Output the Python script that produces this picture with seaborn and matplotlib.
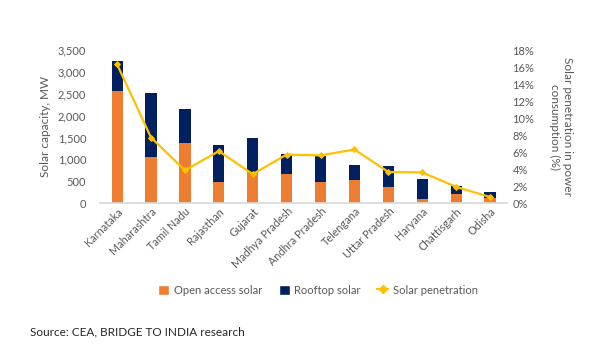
import matplotlib
matplotlib.use("Agg")
import matplotlib.pyplot as plt
import seaborn as sns
import pandas as pd
from matplotlib.ticker import FuncFormatter, MultipleLocator
from matplotlib.lines import Line2D
from matplotlib.patches import Patch

states = ["Karnataka", "Maharashtra", "Tamil Nadu", "Rajasthan", "Gujarat",
          "Madhya Pradesh", "Andhra Pradesh", "Telengana", "Uttar Pradesh",
          "Haryana", "Chattisgarh", "Odisha"]
open_access = [2560, 1054, 1384, 490, 700, 660, 490, 530, 370, 100, 215, 115]
rooftop = [695, 1453, 764, 832, 776, 472, 587, 350, 478, 459, 175, 137]
penetration = [16.3, 7.7, 3.85, 6.1, 3.4, 5.7, 5.6, 6.3, 3.65, 3.6, 1.9, 0.7]

df = pd.DataFrame({"state": states, "open": open_access, "rooftop": rooftop,
                   "pen": penetration})
df["total"] = df["open"] + df["rooftop"]

sns.set_theme(style="white")
plt.rcParams["font.family"] = ["Lato", "DejaVu Sans"]

ORANGE = "#ED7D31"
NAVY = "#002060"
YELLOW = "#FFC000"
GREY = "#595959"

fig = plt.figure(figsize=(6, 3.5), dpi=100)
ax = fig.add_axes([0.167, 0.42, 0.678, 0.437])

sns.barplot(data=df, x="state", y="total", color=NAVY, width=0.33,
            saturation=1, ax=ax, edgecolor="none")
sns.barplot(data=df, x="state", y="open", color=ORANGE, width=0.33,
            saturation=1, ax=ax, edgecolor="none")

ax.set_ylim(0, 3500)
ax.set_xlim(-0.5, len(states) - 0.5)
ax.yaxis.set_major_locator(MultipleLocator(500))
ax.yaxis.set_major_formatter(FuncFormatter(lambda v, p: f"{int(v):,}"))
ax.set_xlabel("")
ax.set_ylabel("Solar capacity, MW", fontsize=8.5, color=GREY, labelpad=5)
for s in ["top", "right", "left"]:
    ax.spines[s].set_visible(False)
ax.spines["bottom"].set_color("#D9D9D9")
ax.tick_params(axis="y", labelsize=8, colors=GREY, length=0, pad=10)
ax.tick_params(axis="x", labelsize=7.8, colors=GREY, length=0, pad=2)
plt.setp(ax.get_xticklabels(), rotation=45, ha="right", rotation_mode="anchor")

ax2 = ax.twinx()
sns.lineplot(data=df, x="state", y="pen", color=YELLOW, marker="D",
             markersize=3, markeredgecolor=YELLOW, linewidth=1.6,
             sort=False, ax=ax2)
ax2.set_ylim(0, 18)
ax2.yaxis.set_major_locator(MultipleLocator(2))
ax2.yaxis.set_major_formatter(FuncFormatter(lambda v, p: f"{int(round(v))}%"))
ax2.set_ylabel("Solar penetration in power\nconsumption (%)", fontsize=8.5,
               color=GREY, rotation=270, labelpad=28)
for s in ["top", "right", "left", "bottom"]:
    ax2.spines[s].set_visible(False)
ax2.tick_params(axis="y", labelsize=8, colors=GREY, length=0, pad=4)

handles = [Patch(facecolor=ORANGE, label="Open access solar"),
           Patch(facecolor=NAVY, label="Rooftop solar"),
           Line2D([0], [0], color=YELLOW, marker="D", markersize=4,
                  linewidth=1.6, label="Solar penetration")]
leg = fig.legend(handles=handles, loc="center", bbox_to_anchor=(0.53, 0.171),
                 ncol=3, frameon=False, fontsize=8, handlelength=1.0,
                 handleheight=1.0, columnspacing=1.5, handletextpad=0.4)
for t in leg.get_texts():
    t.set_color(GREY)

fig.text(0.05, 0.052, "Source: CEA, BRIDGE TO INDIA research", fontsize=8.5,
         color="#262626", ha="left", va="center")

fig.savefig("out.png", dpi=100, facecolor="white")
